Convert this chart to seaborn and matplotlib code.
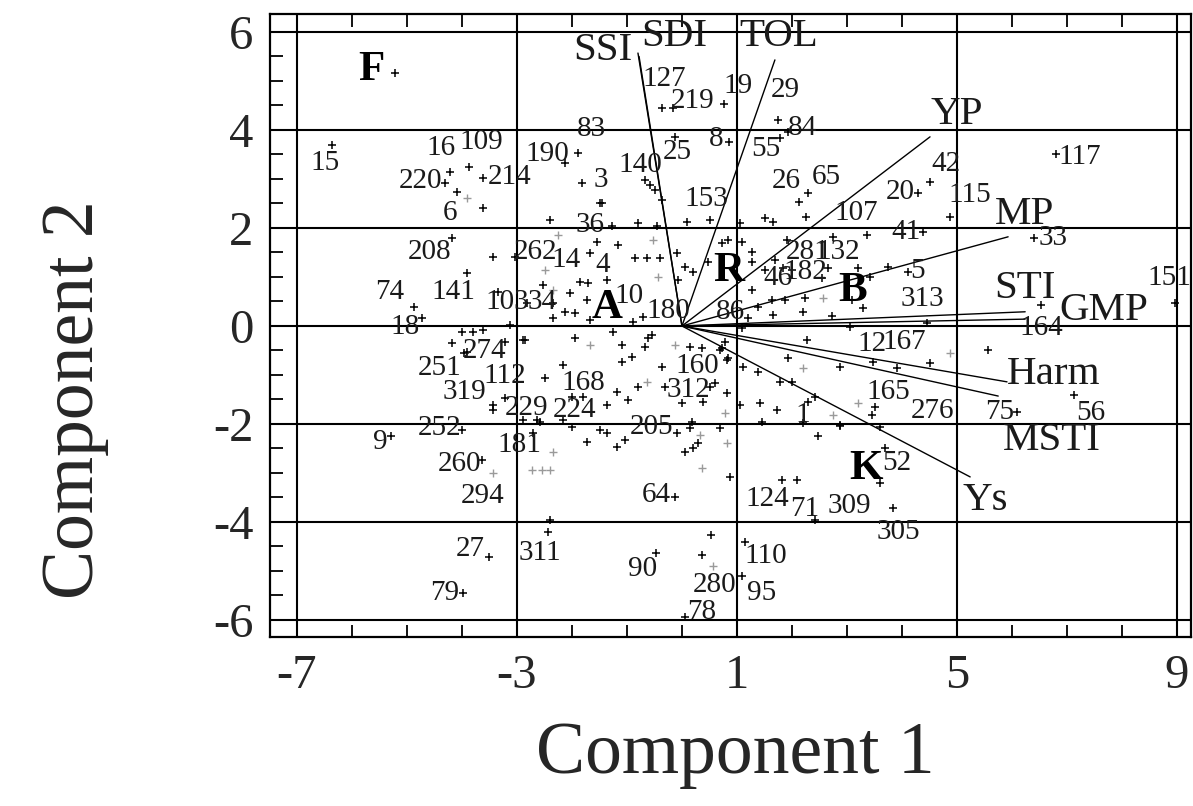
import matplotlib
matplotlib.use("Agg")
import matplotlib.pyplot as plt
import seaborn as sns
import numpy as np
from matplotlib.ticker import MultipleLocator, FixedLocator

# ---------------- data ----------------
# genotype scores (black markers)
pts_x = [-5.22, -6.36, -3.87, -4.22, -4.31, -3.62, -4.09, -3.62, -2.13, -4.18, -3.44, -2.40, -3.04,
         -4.87, -3.91, -3.35, -2.35, -2.13, -2.04, -2.53, -4.73, -3.13, -0.36, -0.16, 0.76, 1.75,
         1.93, 0.85, 1.78, -0.13, -0.67, -0.58, -0.49, -0.36, -1.82, -1.45, -1.89, 2.13, 2.29, 2.25,
         6.80, 4.51, 4.29, 4.87, 4.38, 6.40, 4.11, 8.96, 6.53, 4.45, -4.18, -3.91, -3.22, -4.00,
         -3.80, -3.62, -2.89, -3.96, -3.22, -2.49, -3.44, -3.44, -2.89, -2.64, -2.16, -2.00, -5.29,
         -4.00, -2.71, -3.64, -3.51, -2.40, -2.44, -3.98, -0.13, 1.82, 2.09, 2.42, 1.15, -0.47,
         0.36, 0.53, 1.09, 0.05, 2.47, 2.87, 6.09, 7.13, 5.56, 4.51, 3.69, 3.84, 3.60, 0.87,
         -1.49, -1.27, -0.80, -0.45, 0.09, 0.51, -1.55, -1.16, -1.67, -0.85, -0.64, -0.40, -0.09,
         0.05, 0.20, 0.47, -1.36, -1.85, -1.71, -0.07, -1.73, -2.35, -1.95, -0.71, -0.89, -1.67,
         -2.82, 1.51, 1.65, 1.05, 1.09, 0.84, 0.73, 1.91, 2.75, 3.36, 1.27, 1.27, 1.69, 1.51, 1.84,
         2.00, 2.65, 2.55, 3.20, 3.75, 3.42, 1.27, 1.64, 1.87, 2.24, 1.38, 2.20, 1.65, 2.73, 3.29,
         1.20, 3.09, -2.85, -1.95, -1.25, -1.09, -0.67, -0.62, -0.55, -0.91, -1.09, -0.36, 0.15,
         0.36, -1.18, -0.98, -0.80, -0.31, -1.36, -2.00, -1.80, 0.00, 0.38, 0.51, -2.58, -2.16,
         -1.49, -1.36, -1.73, -1.18, -1.04, -0.09, 0.18, 0.15, 0.29, 0.20, 0.05, 1.09, 3.05, 2.27,
         0.78, 0.69, 0.84, 1.11, 1.38, 1.93, 1.78, 2.00, 2.87, 3.47, 3.91, 0.60, 0.82, 1.05, 1.42,
         1.73, 2.29, 2.42, 3.51, 3.45, 1.45, 2.20, 2.87, 3.60, 0.69, 0.73, 0.82]
pts_y = [5.16, 3.69, 3.24, 3.14, 2.92, 3.02, 2.73, 2.41, 3.33, 1.80, 1.41, 2.16, 1.41,
         0.39, 1.08, 0.69, 0.47, 0.29, 0.67, 0.84, 0.16, 0.02, 4.45, 4.45, 4.53, 4.20,
         3.96, 3.76, 3.84, 3.86, 2.98, 2.88, 2.78, 2.57, 2.92, 2.51, 3.53, 2.53, 2.71, 2.22,
         3.51, 2.94, 2.71, 2.22, 1.92, 1.80, 1.10, 0.47, 0.43, 0.06, -0.35, -0.53, -0.33, -0.12,
         -0.12, -0.08, -0.29, -0.55, -1.47, -1.06, -1.61, -1.71, -1.92, -1.92, -0.80, -2.06, -2.24,
         -2.12, -2.18, -2.73, -4.71, -3.96, -4.20, -5.45, -3.49, -3.14, -3.14, -3.96, -4.41, -4.63,
         -4.67, -4.27, -5.10, -5.94, -2.24, -2.04, -1.76, -1.41, -0.49, -0.76, -2.49, -3.71, -3.20, -3.08,
         2.51, 2.04, 2.10, 2.04, 2.12, 2.16, 1.71, 1.65, 1.49, 1.39, 1.39, 1.39, 1.49,
         1.20, 1.10, 1.31, 0.94, 0.90, 0.88, 0.94, 0.53, 0.16, 0.27, 0.18, 0.08, 0.12,
         0.47, 2.20, 2.12, 2.10, 1.71, 1.76, 1.69, 1.76, 1.82, 1.86, 1.51, 1.31, 1.35, 1.14, 1.18,
         1.14, 1.18, 0.98, 1.18, 1.20, 1.00, 0.73, 0.53, 0.53, 0.57, 0.39, 0.29, 0.22, 0.20, 0.37,
         0.16, 0.53, -0.29, -0.24, -0.12, -0.39, -0.43, -0.24, -0.18, -0.63, -0.73, -0.84, -0.43,
         -0.45, -1.35, -1.51, -1.24, -1.24, -1.61, -1.45, -1.45, -1.57, -1.55, -1.24, -1.96, -1.92,
         -2.12, -2.18, -2.37, -2.47, -2.33, -2.18, -1.96, -2.08, -2.39, -2.49, -2.57, -0.04, -0.02, -0.29,
         -0.33, -0.49, -0.65, -0.84, -0.94, -0.65, -1.14, -1.14, -0.84, -0.73, -0.86, -1.16, -1.37, -1.61, -1.57,
         -1.71, -1.55, -1.45, -1.65, -1.82, -1.96, -1.98, -2.02, -2.06, -2.08, -0.45, -0.69]

# fainter (grey) genotype markers
grey_x = [-3.91, -2.25, -2.35, -2.73, -2.55, -2.40, -3.44, 0.56, 4.87, 0.36, -0.53, -0.44,
          -2.49, -2.35, 2.56, -1.67, -0.13, -0.64, 0.33, 2.20, 3.20, 2.75, 0.78, 0.82]
grey_y = [2.61, 1.86, -2.57, -2.94, -2.94, -2.94, -3.00, -4.90, -0.55, -2.90, 1.76, 1.00,
          1.14, 0.73, 0.57, -0.39, -0.39, -1.14, -2.22, -0.86, -1.57, -1.82, -1.78, -2.39]

# genotype labels (text position in score units)
gen_labels = ["15", "16", "109", "220", "214", "6", "190", "208", "262", "14", "74", "141", "103",
              "34", "18", "127", "219", "19", "29", "83", "84", "8", "55", "25", "140", "3", "26",
              "65", "153", "107", "36", "281", "132", "46", "182", "4", "10", "180", "86", "117",
              "42", "20", "115", "41", "33", "5", "313", "151", "164", "274", "251", "112", "319",
              "229", "224", "252", "9", "181", "260", "294", "27", "311", "79", "160", "168", "312",
              "205", "1", "12", "167", "165", "276", "75", "56", "52", "305", "64", "124", "71",
              "309", "110", "90", "280", "95", "78"]
gen_lx = [-6.49, -4.38, -3.65, -4.76, -3.13, -4.22, -2.45, -4.58, -2.67, -2.11, -5.31, -4.15, -3.18,
          -2.55, -5.04, -0.33, 0.20, 1.02, 1.87, -1.65, 2.20, 0.62, 1.53, -0.09, -0.76, -1.47, 1.89,
          2.62, 0.44, 3.16, -1.67, 2.29, 2.84, 1.75, 2.24, -1.45, -0.96, -0.24, 0.89, 7.24,
          4.80, 3.96, 5.24, 4.07, 6.75, 4.29, 4.38, 8.87, 6.53, -3.58, -4.40, -3.22, -3.95,
          -2.82, -1.95, -4.40, -5.49, -2.95, -4.04, -3.62, -3.85, -2.58, -4.31, 0.27, -1.80, 0.11,
          -0.56, 2.20, 3.45, 4.05, 3.75, 4.56, 5.78, 7.44, 3.91, 3.93, -0.47, 1.56, 2.24,
          3.05, 1.53, -0.71, 0.60, 1.44, 0.35]
gen_ly = [3.33, 3.63, 3.76, 2.96, 3.04, 2.31, 3.51, 1.51, 1.51, 1.35, 0.69, 0.69, 0.49,
          0.49, -0.02, 5.04, 4.59, 4.90, 4.82, 4.02, 4.04, 3.82, 3.61, 3.55, 3.29, 2.98, 2.96,
          3.04, 2.59, 2.31, 2.06, 1.51, 1.51, 0.98, 1.10, 1.24, 0.61, 0.31, 0.29, 3.45,
          3.31, 2.73, 2.67, 1.92, 1.80, 1.12, 0.55, 0.98, -0.04, -0.51, -0.86, -1.02, -1.35,
          -1.67, -1.71, -2.08, -2.37, -2.43, -2.82, -3.47, -4.55, -4.63, -5.45, -0.82, -1.16, -1.31,
          -2.06, -1.82, -0.37, -0.33, -1.35, -1.73, -1.76, -1.78, -2.80, -4.20, -3.45, -3.53, -3.73,
          -3.67, -4.69, -4.96, -5.29, -5.45, -5.84]

# index vectors (loadings, scaled) and their labels
var_names = ["SSI", "SDI", "TOL", "YP", "MP", "STI", "GMP", "Harm", "MSTI", "Ys"]
var_x = [-0.80, -0.78, 1.69, 4.51, 5.93, 6.24, 6.24, 5.91, 5.75, 5.24]
var_y = [5.57, 5.50, 5.43, 3.86, 1.82, 0.29, 0.14, -1.14, -1.43, -3.08]
var_lx = [-1.44, -0.13, 1.75, 5.00, 6.22, 6.24, 7.67, 6.75, 6.73, 5.51]
var_ly = [5.63, 5.90, 5.90, 4.31, 2.27, 0.76, 0.31, -0.98, -2.33, -3.57]

# group letters
grp_names = ["F", "R", "B", "A", "K"]
grp_x = [-5.64, 0.85, 3.11, -1.36, 3.35]
grp_y = [5.22, 1.12, 0.71, 0.37, -2.92]

x_ticks = [-7, -3, 1, 5, 9]
y_ticks = [-6, -4, -2, 0, 2, 4, 6]

# ---------------- plot ----------------
sns.set_theme(style="white")
plt.rcParams["font.family"] = ["Liberation Serif", "DejaVu Serif"]
plt.rcParams["axes.unicode_minus"] = False

W, H = 1193, 806
fig = plt.figure(figsize=(W / 100, H / 100), dpi=100)
ax = fig.add_axes([270 / W, 1 - 637 / H, 921 / W, 623 / H])

ax.set_xlim(-7.49, 9.255)
ax.set_ylim(-6.347, 6.367)

for vx, vy in zip(var_x, var_y):
    ax.plot([0, vx], [0, vy], color="black", lw=1.0, zorder=3)

sns.scatterplot(x=grey_x, y=grey_y, marker="+", color="#9a9a9a", s=28, linewidth=1.0, ax=ax, zorder=4)
sns.scatterplot(x=pts_x, y=pts_y, marker="+", color="black", s=28, linewidth=1.1, ax=ax, zorder=5)

for t, x, y in zip(gen_labels, gen_lx, gen_ly):
    ax.text(x, y, t, fontsize=21, ha="center", va="center", color="#1a1a1a", zorder=6)
for t, x, y in zip(var_names, var_lx, var_ly):
    ax.text(x, y, t, fontsize=29.5, ha="center", va="center", color="#1a1a1a", zorder=6)
for t, x, y in zip(grp_names, grp_x, grp_y):
    ax.text(x, y, t, fontsize=31, fontweight="bold", ha="center", va="center", color="black", zorder=6)

ax.xaxis.set_major_locator(FixedLocator(x_ticks))
ax.yaxis.set_major_locator(FixedLocator(y_ticks))
ax.set_xticklabels([str(v) for v in x_ticks])
ax.set_yticklabels([str(v) for v in y_ticks])
ax.xaxis.set_minor_locator(MultipleLocator(1))
ax.yaxis.set_minor_locator(MultipleLocator(0.5))
ax.tick_params(which="both", direction="in", top=True, bottom=True, left=True, right=False,
               color="black", width=1.3)
ax.tick_params(which="major", length=9, labelsize=35, pad=12)
ax.tick_params(which="minor", length=9)
ax.grid(True, which="major", color="black", lw=1.5)
ax.set_axisbelow(True)
for s in ax.spines.values():
    s.set_visible(True)
    s.set_color("black")
    s.set_linewidth(1.6)
ax.set_xlabel("")
ax.set_ylabel("")

fig.text(735 / W, 1 - 755 / H, "Component 1", fontsize=53, ha="center", va="center")
fig.text(75 / W, 1 - 400 / H, "Component 2", fontsize=53, ha="center", va="center", rotation=90)

fig.savefig("out.png", dpi=100)
